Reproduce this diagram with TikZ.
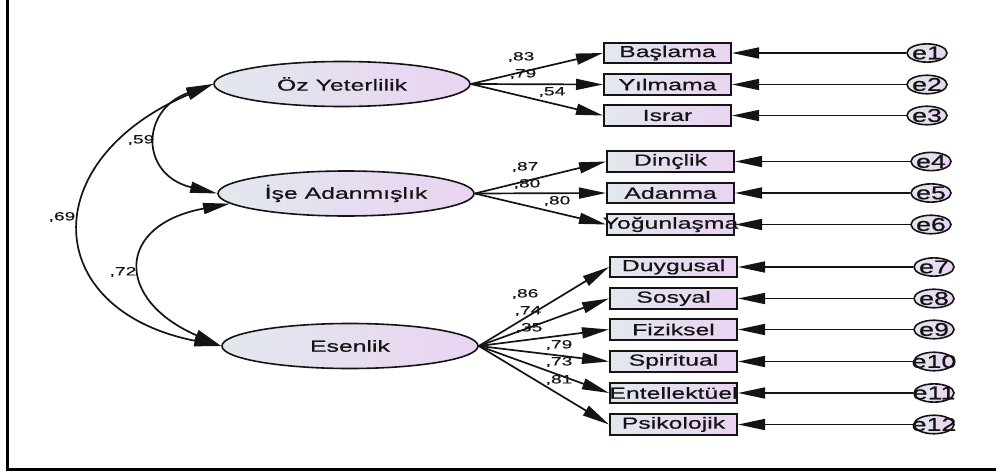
\documentclass[tikz,border=0pt]{standalone}
\usepackage{fontspec}
\setmainfont{Liberation Sans}
\newfontfamily\wf[FakeStretch=1.55,FakeBold=0.6]{Liberation Sans}
\newfontfamily\we[FakeStretch=1.45,FakeBold=0.8]{Liberation Sans}
\newfontfamily\wl[FakeStretch=1.6,FakeBold=0.3]{Liberation Sans}
\usetikzlibrary{arrows.meta,shapes.geometric}
\definecolor{cleft}{RGB}{226,232,238}
\definecolor{cright}{RGB}{234,211,242}
\definecolor{ink}{RGB}{20,20,20}
\newcommand{\zb}[1]{\makebox[0pt]{#1}}
\tikzset{
  latent/.style={ellipse,draw=ink,line width=1.6pt,left color=cleft,right color=cright,
    minimum width=256pt,minimum height=45pt,inner sep=0pt,
    font=\wf\fontsize{16}{18}\selectfont,text=ink},
  obs/.style={rectangle,draw=ink,line width=2pt,left color=cleft,right color=cright,
    minimum width=127pt,minimum height=20.5pt,inner sep=0pt,
    font=\wf\fontsize{16}{18}\selectfont,text=ink},
  err/.style={ellipse,draw=ink,line width=1.6pt,left color=cleft,right color=cright,
    minimum width=40pt,minimum height=17pt,inner sep=0pt,
    font=\we\fontsize{18.5}{18}\selectfont,text=ink},
  path/.style={draw=ink,line width=1.7pt,-{Triangle[length=27pt,width=11pt]}},
  cov/.style={draw=ink,line width=1.7pt,{Triangle[length=27pt,width=11pt]}-{Triangle[length=27pt,width=11pt]}},
  lbl/.style={font=\wl\fontsize{12}{14}\selectfont,text=ink,inner sep=0pt},
}
\begin{document}
\begin{tikzpicture}[x=1pt,y=-1pt]
\useasboundingbox (0,0) rectangle (996,476);
\fill[white] (0,0) rectangle (996,476);
% frame
\coordinate (ftop) at (7.5,0);
\coordinate (fcorner) at (7.5,469.5);
\coordinate (fright) at (996,469.5);
\draw[line width=3pt,black] (ftop) -- (fcorner) -- (fright);
% latent
\node[latent] (oz) at (342,84) {Öz Yeterlilik};
\node[latent] (ise) at (346,193.5) {İşe Adanmışlık};
\node[latent] (es) at (350,346) {Esenlik};
% observed
\node[obs] (b1) at (667.5,53) {\zb{Başlama}};
\node[obs] (b2) at (667.5,84.5) {\zb{Yılmama}};
\node[obs] (b3) at (667.5,115.5) {\zb{Israr}};
\node[obs] (b4) at (670.5,161.5) {\zb{Dinçlik}};
\node[obs] (b5) at (670.5,193) {\zb{Adanma}};
\node[obs] (b6) at (670.5,224.5) {\zb{Yoğunlaşma}};
\node[obs] (b7) at (673.5,267) {\zb{Duygusal}};
\node[obs] (b8) at (673.5,298.5) {\zb{Sosyal}};
\node[obs] (b9) at (673.5,329.5) {\zb{Fiziksel}};
\node[obs] (b10) at (673.5,361.5) {\zb{Spiritual}};
\node[obs] (b11) at (673.5,393) {\zb{Entellektüel}};
\node[obs] (b12) at (673.5,424.5) {\zb{Psikolojik}};
% errors
\node[err] (e1) at (927,53) {\zb{e1}};
\node[err] (e2) at (927,84.5) {\zb{e2}};
\node[err] (e3) at (927,115.5) {\zb{e3}};
\node[err] (e4) at (931,161.5) {\zb{e4}};
\node[err] (e5) at (931,193) {\zb{e5}};
\node[err] (e6) at (931,224.5) {\zb{e6}};
\node[err] (e7) at (934,267) {\zb{e7}};
\node[err] (e8) at (934,298.5) {\zb{e8}};
\node[err] (e9) at (934,329.5) {\zb{e9}};
\node[err] (e10) at (934,361.5) {\zb{e10}};
\node[err] (e11) at (934,393) {\zb{e11}};
\node[err] (e12) at (934,424.5) {\zb{e12}};
% error paths
\foreach \i in {1,...,12} { \draw[path] (e\i) -- (b\i.east); }
% loadings
\draw[path] (oz.east) -- (b1.west);
\draw[path] (oz.east) -- (b2.west);
\draw[path] (oz.east) -- (b3.west);
\draw[path] (ise.east) -- (b4.west);
\draw[path] (ise.east) -- (b5.west);
\draw[path] (ise.east) -- (b6.west);
\foreach \i in {7,...,12} { \draw[path] (es.east) -- (b\i.west); }
% loading labels
\node[lbl] (l1) at (521,57) {,83};
\node[lbl] (l2) at (523,74) {,79};
\node[lbl] (l3) at (552,92) {,54};
\node[lbl] (l4) at (525,167) {,87};
\node[lbl] (l5) at (527,184) {,80};
\node[lbl] (l6) at (557,201) {,80};
\node[lbl] (l7) at (525,294) {,86};
\node[lbl] (l8) at (528,311) {,74};
\node[lbl] (l9) at (529,328) {,35};
\node[lbl] (l10) at (559,345) {,79};
\node[lbl] (l11) at (559,362) {,73};
\node[lbl] (l12) at (559,380) {,81};
% covariances
\draw[cov] (oz.west) .. controls (140,110) and (140,175) .. (ise.west);
\draw[cov] (oz.west) .. controls (35,160) and (40,310) .. (es.west);
\draw[cov] (ise.185) .. controls (115,225) and (115,300) .. (es.west);
\node[lbl] (c59) at (141,140) {,59};
\node[lbl] (c69) at (62,217) {,69};
\node[lbl] (c72) at (123,272) {,72};
\end{tikzpicture}
\end{document}
